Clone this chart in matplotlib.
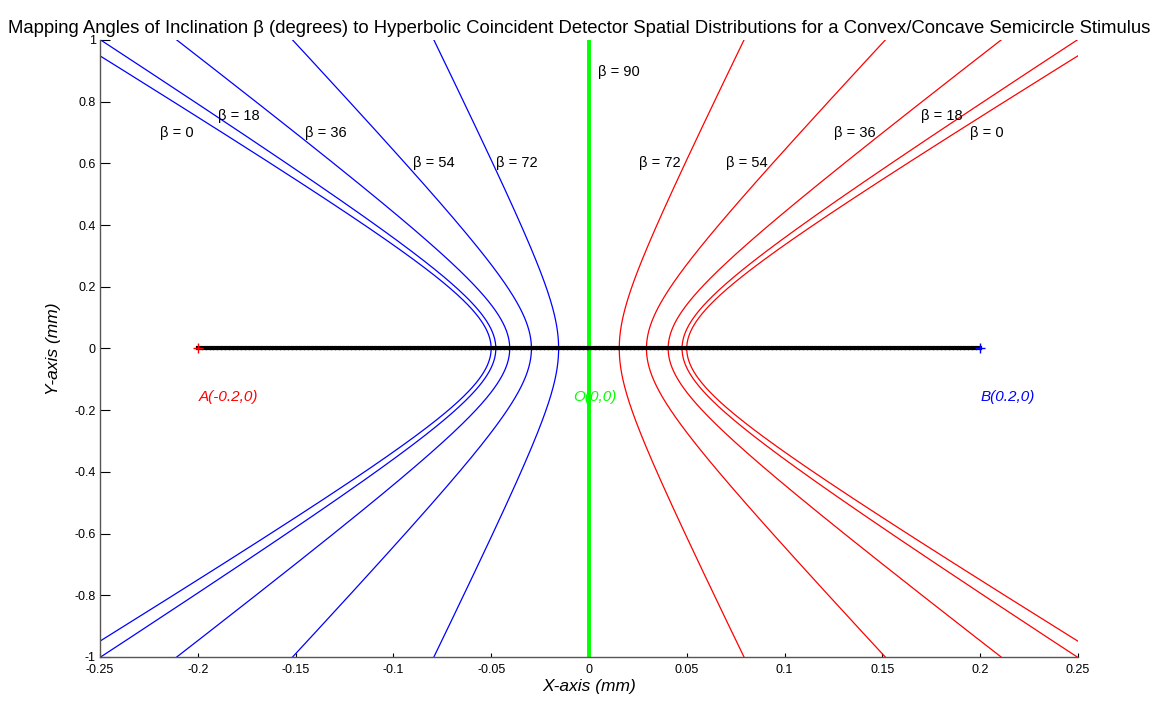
import numpy as np
import matplotlib
matplotlib.use("Agg")
import matplotlib.pyplot as plt

plt.rcParams['font.family'] = ['Liberation Sans', 'DejaVu Sans']

# ---- data ----
betas = [0, 18, 36, 54, 72]                       # degrees
vertex_x = [0.0500, 0.0476, 0.0405, 0.0294, 0.0155]  # hyperbola vertex |x| (mm)
focus_c = 0.2                                      # foci A(-0.2,0), B(0.2,0)
point_A = (-0.2, 0.0)
point_B = (0.2, 0.0)
label_left_x = [-0.2193, -0.1897, -0.1452, -0.0900, -0.0475]
label_right_x = [0.1948, 0.1697, 0.1253, 0.0701, 0.0256]
label_y = [0.70, 0.754, 0.70, 0.60, 0.60]
x_ticks = [-0.25, -0.2, -0.15, -0.1, -0.05, 0, 0.05, 0.1, 0.15, 0.2, 0.25]
x_tick_labels = ['-0.25', '-0.2', '-0.15', '-0.1', '-0.05', '0', '0.05', '0.1', '0.15', '0.2', '0.25']
y_ticks = [-1, -0.8, -0.6, -0.4, -0.2, 0, 0.2, 0.4, 0.6, 0.8, 1]
y_tick_labels = ['-1', '-0.8', '-0.6', '-0.4', '-0.2', '0', '0.2', '0.4', '0.6', '0.8', '1']

fig = plt.figure(figsize=(11.76, 7.05), dpi=100)
ax = fig.add_axes([0.0850, 0.0681, 0.8316, 0.8752])

y = np.linspace(-1.1, 1.1, 800)
for a in vertex_x:
    b2 = focus_c**2 - a**2
    xr = a * np.sqrt(1 + y**2 / b2)
    ax.plot(-xr, y, color=(0, 0, 1), lw=0.9)
    ax.plot(xr, y, color=(1, 0, 0), lw=0.9)

# green beta=90 line
ax.plot([0, 0], [-1, 1], color=(0, 1, 0), lw=2.8)

# black segment AB
xs = np.linspace(point_A[0], point_B[0], 200)
ax.plot(xs, np.zeros_like(xs), color='black', lw=3, marker='.', ms=3)
ax.plot(*point_A, marker='+', color='red', ms=7, mew=1)
ax.plot(*point_B, marker='+', color='blue', ms=7, mew=1)

for b, xl, xr_, yl in zip(betas, label_left_x, label_right_x, label_y):
    ax.text(xl, yl, 'β = %d' % b, fontsize=10.5, va='center', ha='left')
    ax.text(xr_, yl, 'β = %d' % b, fontsize=10.5, va='center', ha='left')
ax.text(0.0046, 0.896, 'β = 90', fontsize=10.5, va='center', ha='left')

ax.text(-0.1994, -0.157, 'A(-0.2,0)', color=(1, 0, 0), style='italic', fontsize=11, va='center', ha='left')
ax.text(-0.0082, -0.157, 'O(0,0)', color=(0, 1, 0), style='italic', fontsize=11, va='center', ha='left')
ax.text(0.2004, -0.157, 'B(0.2,0)', color=(0, 0, 1), style='italic', fontsize=11, va='center', ha='left')

ax.set_xlim(-0.25, 0.25)
ax.set_ylim(-1, 1)
ax.set_xticks(x_ticks)
ax.set_xticklabels(x_tick_labels)
ax.set_yticks(y_ticks)
ax.set_yticklabels(y_tick_labels)
ax.tick_params(axis='x', direction='in', length=3, labelsize=9, width=0.8, pad=5)
ax.tick_params(axis='y', direction='in', length=7, labelsize=9, width=0.8, pad=3)
for s in ['top', 'right']:
    ax.spines[s].set_visible(False)
for s in ['left', 'bottom']:
    ax.spines[s].set_color('#555555')
    ax.spines[s].set_linewidth(1)

ax.set_xlabel('X-axis (mm)', style='italic', fontsize=12.5, labelpad=2)
ax.set_ylabel('Y-axis (mm)', style='italic', fontsize=12.5, labelpad=10)
ax.set_title('Mapping Angles of Inclination β (degrees) to Hyperbolic Coincident Detector Spatial Distributions for a Convex/Concave Semicircle Stimulus',
             fontsize=13.3, pad=5, x=0.49)

fig.savefig('out.png', dpi=100)
